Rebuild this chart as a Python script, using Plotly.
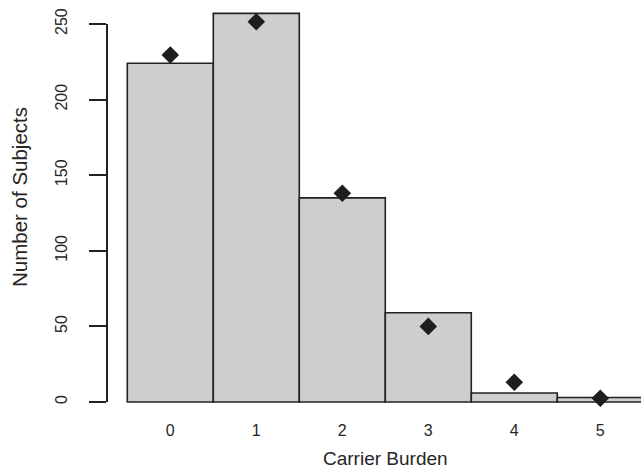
import plotly.graph_objects as go

# Data
categories = [0, 1, 2, 3, 4, 5]
tick_labels = ["0", "1", "2", "3", "4", "5"]
observed = [224, 257, 135, 59, 6, 3]
expected = [229.5, 251.5, 138, 50, 13, 2.5]
y_ticks = [0, 50, 100, 150, 200, 250]

# Layout geometry (pixels)
FIG_W, FIG_H = 641, 470
L, R, T, B = 107, 641, 0, 418
W, H = R - L, B - T
PX_PER_UNIT_X = 86.0
X_CENTER0 = 170.3
PX_PER_UNIT_Y = 1.512
Y_ZERO = 402.0

x_range = [(L - X_CENTER0) / PX_PER_UNIT_X, (R - X_CENTER0) / PX_PER_UNIT_X]
y_range = [-(B - Y_ZERO) / PX_PER_UNIT_Y, (Y_ZERO - T) / PX_PER_UNIT_Y]

def px_x(p):
    return (p - L) / W

def px_y(p):
    return (B - p) / H

FONT = "Liberation Sans, Arial, Helvetica, sans-serif"
TXT = "#262626"

fig = go.Figure()
fig.add_trace(go.Bar(
    x=categories, y=observed, width=1.0,
    marker=dict(color="#cdced0", line=dict(color="#222222", width=1.6)),
    hoverinfo="skip", showlegend=False,
))
fig.add_trace(go.Scatter(
    x=categories, y=expected, mode="markers",
    marker=dict(symbol="diamond", size=13.5, color="#1e1e1e", line=dict(width=0)),
    cliponaxis=False, showlegend=False, hoverinfo="skip",
))

# y axis line only spanning the tick range
fig.add_shape(type="line", xref="paper", yref="y", x0=0, x1=0,
              y0=y_ticks[0], y1=y_ticks[-1],
              line=dict(color="#222222", width=2))

fig.add_annotation(text="Carrier Burden", xref="paper", yref="paper",
                   x=px_x(385), y=px_y(459), xanchor="center", yanchor="middle",
                   showarrow=False,
                   font=dict(family=FONT, size=19, color=TXT))
fig.add_annotation(text="Number of Subjects", xref="paper", yref="paper",
                   x=px_x(20), y=px_y(197), xanchor="center", yanchor="middle",
                   showarrow=False, textangle=-90,
                   font=dict(family=FONT, size=20.5, color=TXT))

fig.update_layout(
    width=FIG_W, height=FIG_H,
    margin=dict(l=L, r=FIG_W - R, t=T, b=FIG_H - B, pad=0, autoexpand=False),
    paper_bgcolor="white", plot_bgcolor="white",
    bargap=0,
    font=dict(family=FONT, size=16, color=TXT),
    xaxis=dict(range=x_range, tickvals=categories, ticktext=tick_labels,
               ticks="", showline=False, showgrid=False, zeroline=False,
               automargin=False,
               tickfont=dict(size=16, color=TXT), ticklabelstandoff=1),
    yaxis=dict(range=y_range, tickvals=y_ticks, ticks="outside", ticklen=17,
               tickwidth=2, tickcolor="#222222", showline=False, showgrid=False,
               zeroline=False, tickangle=-90, automargin=False,
               tickfont=dict(size=16, color=TXT),
               ticklabelstandoff=16),
)

fig.write_html("out.html",
               config={"displayModeBar": False, "staticPlot": True},
               post_script="document.body.style.margin='0';document.body.style.padding='0';")
